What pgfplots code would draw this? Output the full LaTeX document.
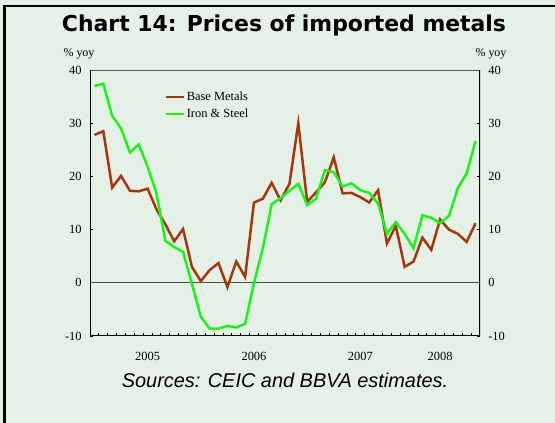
\documentclass[border=0pt]{standalone}
\usepackage{fontspec}
\setmainfont{Liberation Serif}
\newfontfamily\titlefont{DejaVu Sans}
\newfontfamily\srcfont{Liberation Sans}
\usepackage{pgfplots}
\pgfplotsset{compat=1.18}

\definecolor{bgpanel}{RGB}{229,240,230}
\definecolor{basemet}{RGB}{165,55,12}
\definecolor{ironst}{RGB}{25,245,25}

% month index 0 = Jan 2005 ... 43 = Aug 2008
\pgfplotstableread{
i base iron
0 27.8 37.0
1 28.5 37.4
2 17.9 31.4
3 20.1 29.0
4 17.3 24.5
5 17.2 26.0
6 17.7 21.8
7 13.8 16.8
8 11.0 7.9
9 7.8 6.7
10 10.1 5.8
11 3.0 -0.2
12 0.3 -6.4
13 2.4 -8.6
14 3.7 -8.6
15 -0.8 -8.1
16 4.0 -8.4
17 1.1 -7.7
18 15.1 0.0
19 15.8 6.5
20 18.8 14.8
21 15.5 15.9
22 18.6 17.3
23 30.0 18.6
24 15.2 14.6
25 17.0 15.8
26 18.9 21.2
27 23.6 20.8
28 16.8 18.1
29 16.9 18.7
30 16.1 17.4
31 15.1 16.9
32 17.4 14.9
33 7.4 9.2
34 10.7 11.4
35 3.0 9.2
36 4.0 6.5
37 8.5 12.7
38 6.2 12.2
39 11.9 11.2
40 10.0 12.6
41 9.2 17.8
42 7.7 20.6
43 11.2 26.7
}\metals

\begin{document}
\begin{tikzpicture}
\useasboundingbox (0,0) rectangle (555bp,423bp);
\fill[bgpanel] (-2bp,-2bp) rectangle (557bp,425bp);
\draw[line width=2.5bp] (4.5bp,-2bp) -- (4.5bp,417bp) -- (557bp,417bp);

\node[anchor=base, font=\titlefont\bfseries\fontsize{22}{26}\selectfont]
  at (284bp,391.3bp) {Chart 14: Prices of imported metals};
\node[font=\fontsize{12}{14}\selectfont] at (79bp,369bp) {\% yoy};
\node[font=\fontsize{12}{14}\selectfont] at (491bp,369bp) {\% yoy};
\node[anchor=base, font=\srcfont\itshape\fontsize{20}{24}\selectfont]
  at (285bp,36bp) {Sources: CEIC and BBVA estimates.};

\begin{axis}[
  at={(90bp,87bp)}, anchor=south west,
  scale only axis, width=390bp, height=266bp,
  xmin=-0.5, xmax=43.5, ymin=-10, ymax=40,
  axis line style={draw=none},
  tick align=inside, xtick pos=left, ytick pos=both,
  xtick={0.5,1.5,...,42.5}, xticklabels={},
  major tick length=3.3bp,
  tick style={black, line width=0.9bp},
  extra x ticks={6,18,30,39},
  extra x tick labels={2005,2006,2007,2008},
  extra x tick style={major tick length=0pt,
    xticklabel style={yshift=-13bp}},
  ytick={-10,0,...,40},
  yticklabels={-10,0,10,20,30,40},
  yticklabel style={xshift=-4.8bp},
  ticklabel style={font=\fontsize{12.5}{14}\selectfont},
  legend cell align=left,
  legend style={draw=none, fill=none, at={(rel axis cs:0.19,0.926)},
    anchor=north west, font=\fontsize{12.5}{14}\selectfont,
    row sep=3bp, inner sep=0pt},
  legend image code/.code={\draw[#1] (0bp,0bp) -- (18bp,0bp);},
]
\draw[gray!60!black, line width=1bp] (axis cs:-0.5,0) -- (axis cs:43.5,0);
\addplot[basemet, line width=2.5bp] table[x=i, y=base] {\metals};
\addlegendentry{Base Metals}
\addplot[ironst, line width=2.5bp] table[x=i, y=iron] {\metals};
\addlegendentry{Iron \& Steel}
\draw[gray!70!black, line width=0.9bp] (rel axis cs:0,1) -- (rel axis cs:1,1);
\draw[line width=2bp] (rel axis cs:0,1) -- (rel axis cs:0,0)
  -- (rel axis cs:1,0) -- (rel axis cs:1,1);
\end{axis}

\begin{axis}[
  at={(90bp,87bp)}, anchor=south west,
  scale only axis, width=390bp, height=266bp,
  xmin=-0.5, xmax=43.5, ymin=-10, ymax=40,
  axis line style={draw=none},
  xtick=\empty, ytick={-10,0,...,40},
  yticklabels={-10,0,10,20,30,40},
  yticklabel pos=right, major tick length=0pt,
  yticklabel style={xshift=4.8bp},
  ticklabel style={font=\fontsize{12.5}{14}\selectfont},
]
\end{axis}
\end{tikzpicture}
\end{document}
